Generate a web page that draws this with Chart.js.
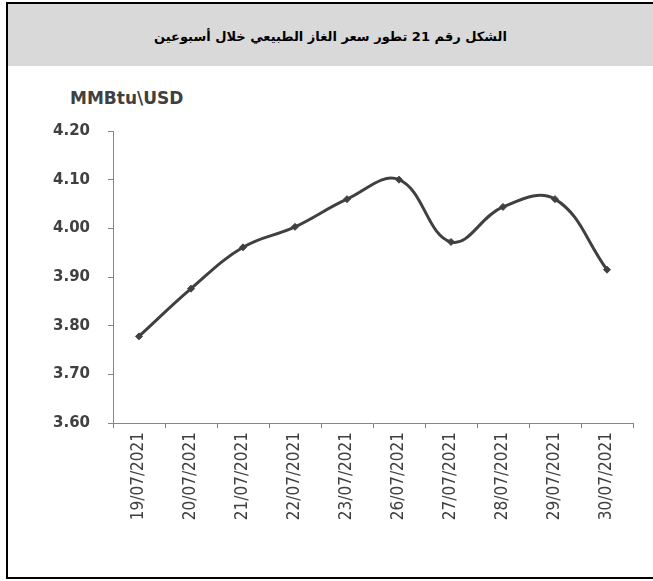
<!DOCTYPE html>
<html>
<head>
<meta charset="utf-8">
<script src="https://cdn.jsdelivr.net/npm/chart.js@4"></script>
<style>
  html, body { margin: 0; padding: 0; background: #fff; width: 653px; height: 581px; overflow: hidden; }
  #frame { position: absolute; left: 6px; top: 2px; width: 647px; height: 573px; border: 2px solid #000; border-right: none; }
  #header { position: absolute; left: 8px; top: 4px; width: 645px; height: 62px; background: #d9d9d9;
            display: flex; align-items: center; justify-content: center;
            font-family: "DejaVu Sans", sans-serif; font-weight: bold; font-size: 13px; color: #000; direction: rtl; padding-top: 2px; box-sizing: border-box; }
  #unit { position: absolute; left: 70px; top: 88px; font-family: "DejaVu Sans", sans-serif; font-weight: bold;
          font-size: 17px; color: #404040; line-height: 20px; }
  #wrap { position: absolute; left: 0; top: 66px; width: 653px; height: 511px; }
</style>
</head>
<body>
<div id="frame"></div>
<div id="header">الشكل رقم 21 تطور سعر الغاز الطبيعي خلال أسبوعين</div>
<div id="unit">MMBtu\USD</div>
<div id="wrap"><canvas id="c"></canvas></div>
<script>
const categories = ["19/07/2021","20/07/2021","21/07/2021","22/07/2021","23/07/2021","26/07/2021","27/07/2021","28/07/2021","29/07/2021","30/07/2021"];
const gasPrice = [3.778, 3.876, 3.961, 4.003, 4.06, 4.10, 3.972, 4.044, 4.06, 3.915];
const yTicks = [3.60, 3.70, 3.80, 3.90, 4.00, 4.10, 4.20];

const axisColor = '#868686';
const textColor = '#404040';

new Chart(document.getElementById('c'), {
  type: 'line',
  data: {
    labels: categories,
    datasets: [{
      data: gasPrice,
      borderColor: '#404040',
      borderWidth: 3,
      tension: 0.4,
      pointStyle: 'rectRot',
      pointRadius: 3.5,
      pointBackgroundColor: '#404040',
      pointBorderColor: '#404040',
      pointBorderWidth: 1,
      fill: false
    }]
  },
  options: {
    responsive: true,
    maintainAspectRatio: false,
    animation: false,
    layout: { padding: { top: 65, right: 20, left: 0, bottom: 0 } },
    plugins: { legend: { display: false }, tooltip: { enabled: false }, title: { display: false } },
    scales: {
      x: {
        offset: true,
        grid: { display: true, drawOnChartArea: false, drawTicks: true, tickLength: 5, color: axisColor, offset: true },
        border: { display: true, color: axisColor, width: 1 },
        ticks: {
          autoSkip: false, minRotation: 90, maxRotation: 90, padding: 4,
          color: textColor,
          font: { family: "'Liberation Sans Narrow', 'DejaVu Sans Condensed', sans-serif", size: 17 }
        },
        afterFit: s => { s.height = 154; }
      },
      y: {
        min: 3.6, max: 4.2,
        afterBuildTicks: s => { s.ticks = yTicks.map(v => ({ value: v })); },
        grid: { display: true, drawOnChartArea: false, drawTicks: true, tickLength: 5, color: axisColor },
        border: { display: true, color: axisColor, width: 1 },
        ticks: {
          padding: 18,
          color: textColor,
          font: { family: "'DejaVu Sans', sans-serif", size: 15, weight: 'bold' },
          callback: v => Number(v).toFixed(2)
        },
        afterFit: s => { s.width = 113; }
      }
    }
  }
});
</script>
</body>
</html>
